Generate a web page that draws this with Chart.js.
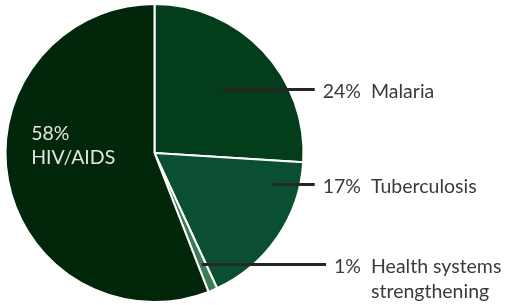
<!DOCTYPE html>
<html>
<head>
<meta charset="utf-8">
<script src="https://cdn.jsdelivr.net/npm/chart.js@4.4.1/dist/chart.umd.min.js"></script>
<style>
  html, body { margin: 0; padding: 0; background: #fff; }
  #wrap { width: 505px; height: 305px; }
</style>
</head>
<body>
<div id="wrap"><canvas id="myChart"></canvas></div>
<script>
// slice sizes as drawn in the picture, printed shares as labelled
var categories = ['Malaria', 'Tuberculosis', 'Health systems strengthening', 'HIV/AIDS'];
var nameLines = [['Malaria'], ['Tuberculosis'], ['Health systems', 'strengthening'], ['HIV/AIDS']];
var sliceValues = [26, 17.1, 1.0, 55.9];
var shareLabels = ['24%', '17%', '1%', '58%'];
var sliceColors = ['#033d1c', '#0a4f31', '#3f7a57', '#01260a'];

// where each leader line starts inside its slice: [fraction along the arc, fraction of radius]
var leaderAnchors = [[0.5, 0.63], [0.18, 0.82], [0.5, 0.81], null];

var labelPlugin = {
    id: 'pieLabels',
    afterDatasetsDraw: function (chart) {
        var ctx = chart.ctx;
        var arcs = chart.getDatasetMeta(0).data;
        var pctRight = 361, nameLeft = 371;
        ctx.save();
        ctx.font = '19.5px Lato';
        arcs.forEach(function (arc, i) {
            var anchor = leaderAnchors[i];
            if (!anchor) return;
            var a = arc.startAngle + anchor[0] * (arc.endAngle - arc.startAngle);
            var r = arc.outerRadius * anchor[1];
            var px = arc.x + Math.cos(a) * r;
            var py = Math.round(arc.y + Math.sin(a) * r) + 0.5;
            var pctW = ctx.measureText(shareLabels[i]).width;
            ctx.strokeStyle = '#262626';
            ctx.lineWidth = 3;
            ctx.beginPath();
            ctx.moveTo(px, py);
            ctx.lineTo(pctRight - pctW - 8, py);
            ctx.stroke();
            ctx.fillStyle = '#3a3a3a';
            ctx.textBaseline = 'middle';
            ctx.textAlign = 'right';
            ctx.fillText(shareLabels[i], pctRight, py + 2);
            ctx.textAlign = 'left';
            nameLines[i].forEach(function (line, k) {
                ctx.fillText(line, nameLeft, py + 2 + k * 25);
            });
        });
        // inside label for the big slice
        var big = arcs[3];
        var ba = big.startAngle + 0.573 * (big.endAngle - big.startAngle);
        var bx = big.x + Math.cos(ba) * big.outerRadius * 0.83;
        var by = big.y + Math.sin(ba) * big.outerRadius * 0.83;
        ctx.fillStyle = '#e4e4e4';
        ctx.textAlign = 'left';
        ctx.textBaseline = 'middle';
        ctx.fillText(shareLabels[3], bx, by - 11);
        ctx.fillText(nameLines[3][0], bx, by + 13);
        ctx.restore();
    }
};

var ctx = document.getElementById('myChart').getContext('2d');
var myChart = new Chart(ctx, {
    type: 'pie',
    data: {
        labels: categories,
        datasets: [{
            data: sliceValues,
            backgroundColor: sliceColors,
            borderColor: '#ffffff',
            borderWidth: 2
        }]
    },
    options: {
        responsive: true,
        maintainAspectRatio: false,
        animation: false,
        layout: { padding: { left: 4, top: 3, right: 200, bottom: 2 } },
        plugins: {
            legend: { display: false },
            tooltip: { enabled: false }
        }
    },
    plugins: [labelPlugin]
});
</script>
</body>
</html>
